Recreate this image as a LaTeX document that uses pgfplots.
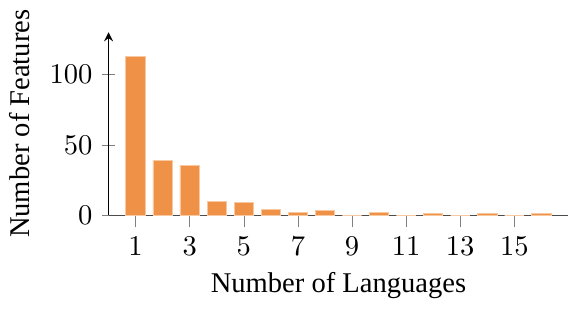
\documentclass[border=0pt]{standalone}
\usepackage{fontspec}
\setmainfont{Liberation Serif}
\usepackage{pgfplots}
\pgfplotsset{compat=1.18}
\definecolor{barfill}{RGB}{240,145,72}
\definecolor{baredge}{RGB}{248,200,160}
\begin{document}
\begin{tikzpicture}
\begin{axis}[
  scale only axis,
  width=161pt, height=64pt,
  xmin=0, xmax=17,
  ymin=0, ymax=130,
  axis y line=left,
  axis x line=bottom,
  x axis line style={-, draw=black!70},
  xtick={1,3,5,7,9,11,13,15},
  ytick={0,50,100},
  tick align=center,
  major tick style={black!50},
  xlabel={Number of Languages},
  ylabel={Number of Features},
  xlabel style={yshift=1pt},
  ybar,
  bar width=6.8pt,
]
\addplot[fill=barfill, draw=baredge, line width=0.3pt] coordinates {
(1,113) (2,39) (3,35) (4,10) (5,9) (6,4) (7,2) (8,3)
(9,0) (10,2) (11,0) (12,1) (13,0) (14,1) (15,0) (16,1)
};
\end{axis}
\end{tikzpicture}
\end{document}
